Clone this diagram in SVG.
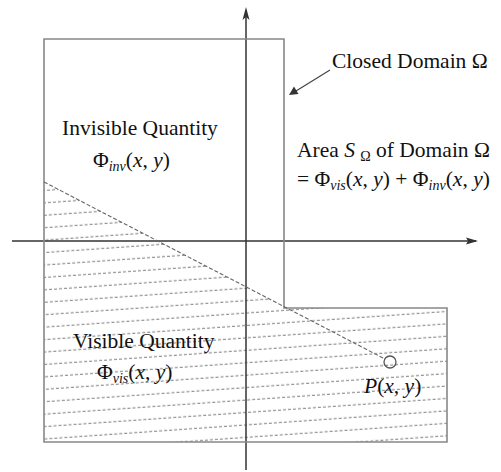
<svg xmlns="http://www.w3.org/2000/svg" width="501" height="472" viewBox="0 0 501 472">
<style>
.t{font-family:"Liberation Serif","Times New Roman",serif;font-size:21.5px;fill:#111}
.i{font-style:italic}
.outline{fill:none;stroke:#888;stroke-width:1.6}
.axis{stroke:#333;stroke-width:1.5;fill:none}
.dash{stroke:#666;stroke-width:1.1;stroke-dasharray:4 2;fill:none}
</style>
<defs>
<pattern id="hatch" patternUnits="userSpaceOnUse" width="400" height="12.4" patternTransform="translate(44,433) rotate(-4)">
<line x1="0" y1="6" x2="400" y2="6" stroke="#6a6a6a" stroke-width="0.9" stroke-dasharray="3 2"/>
</pattern>
</defs>
<rect width="501" height="472" fill="#fff"/>
<g id="visible-region">
<polygon points="44,182 284,307 284,308 447,308 447,442 44,442" fill="url(#hatch)"/>
</g>
<g id="axes">
<line class="axis" x1="12" y1="241" x2="476" y2="241"/>
<polygon points="478,241 466,237.5 468,241 466,244.5" fill="#333"/>
<line class="axis" x1="246" y1="10" x2="246" y2="470"/>
<polygon points="246,7 242.5,20 246,17 249.5,20" fill="#333"/>
</g>
<g id="domain">
<polygon class="outline" points="44,39 284,39 284,308 447,308 447,442 44,442"/>
</g>
<g id="connectors">
<line class="dash" x1="44" y1="182" x2="385" y2="359"/>
<line x1="330" y1="70" x2="296" y2="91" stroke="#444" stroke-width="1.2"/>
<polygon points="289,95 294,86.5 298.5,94" fill="#333"/>
</g>
<g id="point-P">
<circle cx="390" cy="362" r="6" fill="none" stroke="#555" stroke-width="1.3"/>
<text class="t" x="364" y="393"><tspan class="i">P</tspan>(<tspan class="i">x</tspan>, <tspan class="i">y</tspan>)</text>
</g>
<g id="invisible-label">
<text class="t" x="62" y="135">Invisible Quantity</text>
<text class="t" x="93" y="167">Φ<tspan class="i" font-size="14" dy="4">inv</tspan><tspan dy="-4">(</tspan><tspan class="i">x</tspan>, <tspan class="i">y</tspan>)</text>
</g>
<g id="visible-label">
<text class="t" x="73" y="348">Visible Quantity</text>
<text class="t" x="97" y="379">Φ<tspan class="i" font-size="14" dy="4">vis</tspan><tspan dy="-4">(</tspan><tspan class="i">x</tspan>, <tspan class="i">y</tspan>)</text>
</g>
<g id="closed-domain-label">
<text class="t" x="332" y="68">Closed Domain Ω</text>
</g>
<g id="area-label">
<text class="t" x="297" y="157">Area <tspan class="i">S</tspan> <tspan font-size="14" dy="4">Ω</tspan><tspan dy="-4"> of Domain Ω</tspan></text>
<text class="t" x="297" y="186">= Φ<tspan class="i" font-size="14" dy="4">vis</tspan><tspan dy="-4">(</tspan><tspan class="i">x</tspan>, <tspan class="i">y</tspan>) + Φ<tspan class="i" font-size="14" dy="4">inv</tspan><tspan dy="-4">(</tspan><tspan class="i">x</tspan>, <tspan class="i">y</tspan>)</text>
</g>
</svg>
